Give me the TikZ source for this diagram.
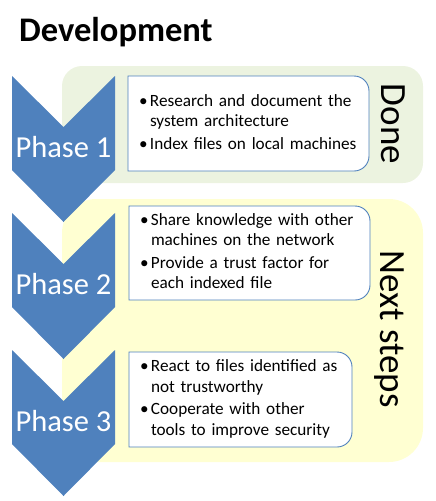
\documentclass[tikz,border=0pt]{standalone}
\usepackage{fontspec}
\setmainfont{Carlito}
\usepackage{xcolor}
\definecolor{phaseblue}{RGB}{79,129,189}
\definecolor{donegreen}{RGB}{236,243,224}
\definecolor{nextyellow}{RGB}{255,255,210}
\usepackage{tikz}
\usetikzlibrary{positioning, backgrounds, calc}
\tikzset{
  chevron/.style    = {fill=phaseblue},
  phaselabel/.style = {anchor=base, text=white, inner sep=0pt, font=\fontsize{30.5}{30.5}\selectfont},
  panel/.style      = {rectangle, anchor=north west, inner sep=0pt, outer sep=0pt},
  stagelabel/.style = {anchor=base, rotate=-90, inner sep=0pt, font=\fontsize{37}{37}\selectfont},
  taskbox/.style    = {rectangle, anchor=north west, inner xsep=11pt, inner ysep=0pt, outer sep=0pt,
                       align=left, minimum height=95pt, font=\fontsize{17.2}{20.5}\selectfont},
  boxline/.style    = {draw=phaseblue, line width=0.9pt, fill=white},
}
\newcommand{\taskbullet}{\makebox[11pt][l]{\textbullet}}

\begin{document}
\begin{tikzpicture}[x=1pt, y=1pt]
    \useasboundingbox (0,0) rectangle (436,-501);

    % ── Title ───────────────────────────────────────────────────
    \node[anchor=base west, inner sep=0pt, font=\fontsize{34.5}{34.5}\selectfont\bfseries]
      (title) at (19,-41) {Development};

    % ── Phase chevrons ──────────────────────────────────────────
    \foreach \n/\y in {1/76, 2/213, 3/350} {
      \fill[chevron] (12,-\y) -- (63.5,-\y-51) -- (115,-\y) -- (115,-\y-94)
        -- (63.5,-\y-146) -- (12,-\y-94) -- cycle;
      \node[phaselabel] (phase\n) at (63.5,-\y-81) {Phase \n};
    }

    % ── Task boxes ──────────────────────────────────────────────
    \node[taskbox, text width=219pt] (box1) at (128,-76) {%
      \begin{tabular}{@{}l@{}l@{}}
        \taskbullet & Research and document the\\
                    & system architecture\\[2pt]
        \taskbullet & Index files on local machines
      \end{tabular}};
    \node[taskbox, text width=219pt, minimum height=94pt] (box2) at (129,-206) {%
      \begin{tabular}{@{}l@{}l@{}}
        \taskbullet & Share knowledge with other\\
                    & machines on the network\\[2pt]
        \taskbullet & Provide a trust factor for\\
                    & each indexed file
      \end{tabular}};
    \node[taskbox, text width=201pt] (box3) at (129,-352) {%
      \begin{tabular}{@{}l@{}l@{}}
        \taskbullet & React to files identified as\\
                    & not trustworthy\\[2pt]
        \taskbullet & Cooperate with other\\
                    & tools to improve security
      \end{tabular}};

    % ── Stage labels ────────────────────────────────────────────
    \node[stagelabel] (done) at (381,-124) {Done};
    \node[stagelabel] (next) at (380,-329) {Next steps};

    % ── Panels and box outlines behind ──────────────────────────
    \begin{scope}[on background layer]
      \node[panel, fill=donegreen, rounded corners=20pt, minimum width=361pt, minimum height=117pt]
        (donepanel) at (62,-66) {};
      \node[panel, fill=nextyellow, rounded corners=34pt, minimum width=361pt, minimum height=263pt]
        (nextpanel) at (62,-199) {};
      \foreach \b in {box1, box2, box3}
        \draw[boxline] (\b.north west) -- ($(\b.north east)+(-15,0)$)
          arc[start angle=90, end angle=0, radius=15]
          -- ($(\b.south east)+(0,15)$)
          arc[start angle=0, end angle=-90, radius=15]
          -- (\b.south west) -- cycle;
    \end{scope}
\end{tikzpicture}
\end{document}
